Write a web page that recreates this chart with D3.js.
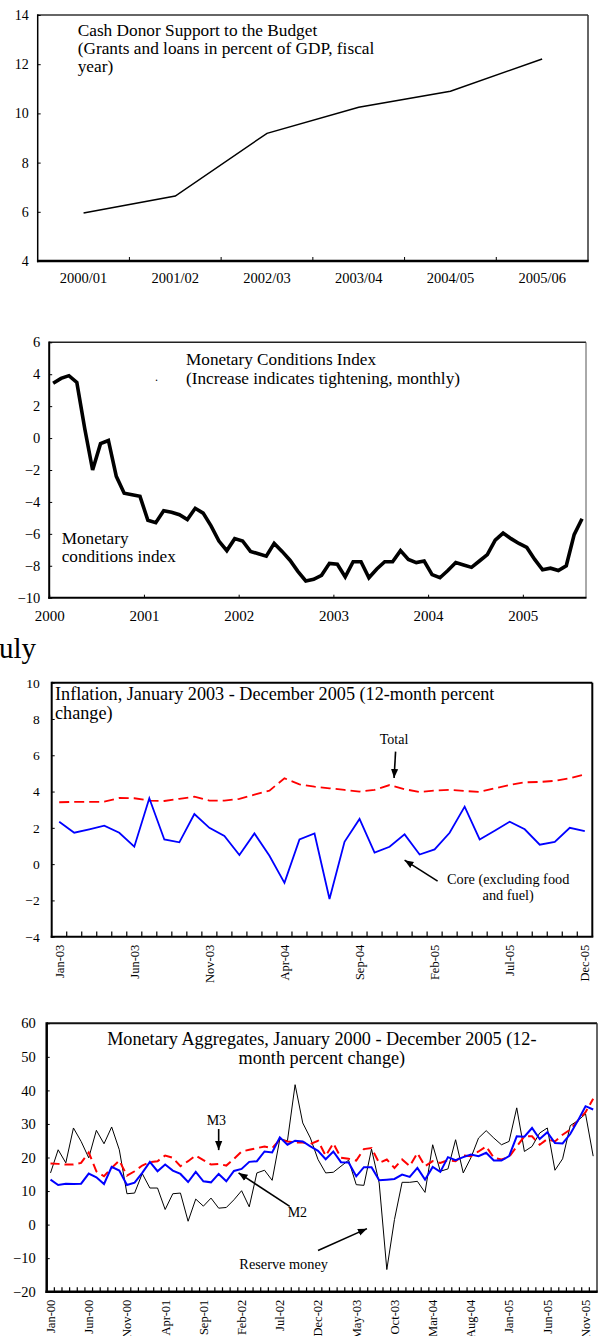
<!DOCTYPE html>
<html><head><meta charset="utf-8">
<script src="https://cdn.jsdelivr.net/npm/d3@7"></script>
<style>
body{margin:0;background:#fff}
svg text{font-family:"Liberation Serif","Times New Roman",serif;fill:#000}
</style></head><body><svg id="c" width="599" height="1336"></svg>
<script>
// ---------- data ----------
const donorYears = ["2000/01","2001/02","2002/03","2003/04","2004/05","2005/06"];
const donorValues = [5.95,6.64,9.19,10.25,10.9,12.21];
const donorTicks = [4,6,8,10,12,14];

const mciYears = ["2000","2001","2002","2003","2004","2005"];
const mciValues = [
 3.43,3.74,3.91,3.49,0.6,-2.0,-0.35,-0.15,-2.4,-3.45,-3.55,-3.65,
 -5.15,-5.3,-4.55,-4.65,-4.8,-5.1,-4.4,-4.7,-5.5,-6.45,-7.05,-6.3,
 -6.45,-7.1,-7.25,-7.4,-6.6,-7.1,-7.65,-8.35,-8.95,-8.85,-8.6,-7.85,
 -7.9,-8.7,-7.75,-7.75,-8.75,-8.2,-7.75,-7.75,-7.05,-7.6,-7.8,-7.7,
 -8.55,-8.75,-8.3,-7.8,-7.95,-8.1,-7.7,-7.3,-6.4,-5.95,-6.3,-6.6,
 -6.85,-7.6,-8.25,-8.15,-8.3,-8.0,-6.05,-5.05];
const mciTicks = [-10,-8,-6,-4,-2,0,2,4,6];

const inflMonths = d3.timeMonth.range(new Date(2003,0,1), new Date(2006,0,1));
const inflTickLabels = ["Jan-03","Jun-03","Nov-03","Apr-04","Sep-04","Feb-05","Jul-05","Dec-05"];
const inflTotal = [3.41,3.43,3.43,3.44,3.65,3.63,3.5,3.48,3.6,3.72,3.5,3.5,
 3.6,3.83,4.05,4.73,4.4,4.27,4.18,4.09,4.0,4.09,4.36,4.13,
 3.98,4.05,4.09,4.03,3.98,4.18,4.36,4.51,4.53,4.59,4.73,4.95];
const inflCore = [2.34,1.73,1.92,2.12,1.73,0.96,3.63,1.36,1.2,2.76,2.0,1.55,
 0.5,1.69,0.46,-1.03,1.36,1.69,-1.92,1.23,2.49,0.63,0.96,1.64,
 0.53,0.81,1.73,3.17,1.36,1.84,2.34,1.92,1.07,1.22,2.0,1.82];
const inflTicks = [-4,-2,0,2,4,6,8,10];

const aggMonths = d3.timeMonth.range(new Date(2000,0,1), new Date(2006,0,1));
const aggTickLabels = ["Jan-00","Jun-00","Nov-00","Apr-01","Sep-01","Feb-02","Jul-02","Dec-02","May-03","Oct-03","Mar-04","Aug-04","Jan-05","Jun-05","Nov-05"];
const reserveMoney = [15.4,22.3,18.4,28.8,24.8,19.9,28.1,24.1,29.1,22.3,
 9.2,9.4,15.2,10.9,10.9,4.5,9.2,9.4,1.0,7.6,
 5.5,7.9,4.9,5.1,7.4,10.1,5.3,15.4,16.2,13.2,
 25.5,25.0,41.7,30.3,25.8,19.4,15.4,15.6,17.4,19.2,
 11.9,11.7,22.5,12.4,-13.4,1.5,12.6,12.6,12.9,9.6,
 23.8,15.9,16.6,25.3,15.4,19.9,25.8,28.0,25.8,23.8,
 24.8,34.8,21.8,23.3,27.3,28.8,16.2,19.6,29.5,31.0,
 33.0,20.4];
const m2 = [13.4,11.8,12.2,12.1,12.2,15.2,14.1,12.1,17.2,16.1,
 11.8,12.5,15.4,18.7,15.9,17.9,16.1,15.1,12.7,15.7,
 12.9,12.6,15.1,12.9,16.0,16.6,18.7,18.9,21.8,21.5,
 26.0,23.8,25.0,24.8,23.3,22.0,19.5,21.8,18.6,18.5,
 14.4,17.1,17.1,13.2,13.4,13.6,14.9,14.2,16.9,13.4,
 17.2,15.7,20.1,19.2,20.1,20.9,20.4,21.4,19.1,19.1,
 20.4,26.3,26.2,28.8,25.5,27.5,24.3,24.2,27.0,31.0,
 35.3,34.3];
const m3 = [18.2,18.1,17.9,17.9,18.4,21.5,15.9,14.4,16.9,19.1,
 14.6,15.9,17.6,18.6,18.9,20.6,19.9,17.4,18.9,20.6,
 19.2,17.9,18.1,17.6,19.6,21.8,22.3,22.8,23.3,22.8,
 25.3,24.8,24.5,24.5,24.0,25.0,20.5,24.2,19.9,19.6,
 19.1,22.5,22.8,18.4,19.4,16.9,19.4,17.4,21.3,17.4,
 18.9,18.4,19.2,18.9,20.6,20.4,21.8,23.3,19.9,19.4,
 20.2,23.3,26.3,26.3,23.8,25.5,24.8,26.8,28.3,31.0,
 33.5,37.5];
const aggTicks = [-20,-10,0,10,20,30,40,50,60];

// ---------- helpers ----------
const svg = d3.select("#c");
svg.append("rect").attr("width",599).attr("height",1336).attr("fill","#fff");
const defs = svg.append("defs");
defs.append("marker").attr("id","ah").attr("viewBox","0 0 10 10")
  .attr("refX",10).attr("refY",5).attr("markerWidth",9).attr("markerHeight",9)
  .attr("markerUnits","userSpaceOnUse").attr("orient","auto")
  .append("path").attr("d","M0,1L10,5L0,9Z").attr("fill","#000");

function frame(g,x0,x1,y0,y1,st){
  g.append("line").attr("x1",x0).attr("x2",x1).attr("y1",y1).attr("y2",y1).attr("stroke",st.top).attr("stroke-width",st.tw);
  g.append("line").attr("x1",x1).attr("x2",x1).attr("y1",y1).attr("y2",y0).attr("stroke",st.right).attr("stroke-width",st.rw);
  g.append("line").attr("x1",x0).attr("x2",x0).attr("y1",y1-st.tw/2).attr("y2",y0+st.bw/2).attr("stroke","#000").attr("stroke-width",st.lw);
  g.append("line").attr("x1",x0-st.lw/2).attr("x2",x1+st.rw/2).attr("y1",y0).attr("y2",y0).attr("stroke","#000").attr("stroke-width",st.bw);
}
function leftAxis(g,y,x0,ticks,fs,pad){
  const a = g.append("g").attr("transform",`translate(${x0},0)`)
    .call(d3.axisLeft(y).tickValues(ticks).tickSizeInner(-3).tickSizeOuter(0).tickPadding(pad));
  a.select(".domain").remove();
  a.selectAll("line").attr("stroke","#000");
  a.selectAll("text").attr("font-size",fs).attr("font-family","Liberation Serif");
}
function arrow(g,x1,y1,x2,y2){
  g.append("line").attr("x1",x1).attr("y1",y1).attr("x2",x2).attr("y2",y2)
    .attr("stroke","#000").attr("stroke-width",1.6).attr("marker-end","url(#ah)");
}
function lines(g,arr,x,y,o){
  arr.forEach((t,i)=>g.append("text").attr("x",x).attr("y",y+i*o.dy)
     .attr("font-size",o.fs).attr("text-anchor",o.anchor||"start").text(t));
}

// ---------- Panel 1 ----------
{
  const g = svg.append("g");
  const x = d3.scaleBand().domain(donorYears).range([37.7,588]);
  const y = d3.scaleLinear().domain([4,14]).range([261,15]);
  frame(g,37.7,588,261,15,{top:"#333",tw:1.5,right:"#333",rw:1.5,lw:1.5,bw:2.5});
  leftAxis(g,y,37.7,donorTicks,14,9);
  const xa = g.append("g").attr("transform","translate(0,261)")
    .call(d3.axisBottom(x).tickSize(0).tickPadding(12));
  xa.select(".domain").remove();
  xa.selectAll("text").attr("font-size",14.5).attr("font-family","Liberation Serif");
  g.selectAll(".bt").data(donorYears.slice(1)).enter().append("line")
    .attr("x1",d=>x(d)).attr("x2",d=>x(d)).attr("y1",261).attr("y2",257)
    .attr("stroke","#000").attr("stroke-width",1);
  g.append("path").datum(donorValues)
    .attr("d",d3.line().x((d,i)=>x(donorYears[i])+x.bandwidth()/2).y(d=>y(d)))
    .attr("fill","none").attr("stroke","#000").attr("stroke-width",1.5);
  lines(g,["Cash Donor Support to the Budget","(Grants and loans in percent of GDP, fiscal","year)"],77.7,35.5,{dy:18.3,fs:17.3});
}

// ---------- Panel 2 ----------
{
  const g = svg.append("g");
  const x = d3.scaleLinear().domain([0,mciValues.length]).range([49.2,586]);
  const y = d3.scaleLinear().domain([-10,6]).range([597.7,342.3]);
  frame(g,49.2,586,597.7,342.3,{top:"#222",tw:1.5,right:"#555",rw:1,lw:2,bw:2});
  leftAxis(g,y,49.2,mciTicks,14.5,9);
  const xa = g.append("g").attr("transform","translate(0,597.7)")
    .call(d3.axisBottom(x).tickValues(mciYears.map((d,i)=>i*12)).tickFormat((d,i)=>mciYears[i])
      .tickSizeInner(-3).tickSizeOuter(0).tickPadding(13));
  xa.select(".domain").remove();
  xa.selectAll("line").attr("stroke","#000");
  xa.selectAll("text").attr("font-size",15).attr("font-family","Liberation Serif");
  g.append("path").datum(mciValues)
    .attr("d",d3.line().x((d,i)=>x(i+0.5)).y(d=>y(d)))
    .attr("fill","none").attr("stroke","#000").attr("stroke-width",3.6).attr("stroke-linejoin","miter");
  lines(g,["Monetary Conditions Index","(Increase indicates tightening, monthly)"],186,364.5,{dy:19,fs:17.2});
  lines(g,["Monetary","conditions index"],61.7,543.5,{dy:18,fs:17.2});
  g.append("text").attr("x",155).attr("y",381).attr("font-size",12).text(".");
}

// ---------- "uly" fragment ----------
svg.append("text").attr("x",-1).attr("y",658).attr("font-size",29).text("uly");

// ---------- Panel 3 ----------
{
  const g = svg.append("g");
  const fmt = d3.timeFormat("%b-%y");
  const cats = inflMonths.map(fmt);
  const x = d3.scaleBand().domain(cats).range([51.7,592.3]);
  const y = d3.scaleLinear().domain([-4,10]).range([936.7,682.7]);
  const cx = i => x.range()[0] + (i+0.5)*x.step();
  frame(g,51.7,592.3,936.7,682.7,{top:"#000",tw:2,right:"#000",rw:2,lw:2,bw:2});
  leftAxis(g,y,51.7,inflTicks,13.5,12);
  g.selectAll(".mt").data(cats.slice(1)).enter().append("line")
    .attr("x1",d=>x(d)).attr("x2",d=>x(d)).attr("y1",936.7).attr("y2",931.5)
    .attr("stroke","#000").attr("stroke-width",1.2);
  g.selectAll(".xl").data(inflTickLabels).enter().append("text")
    .attr("transform",d=>`translate(${x(d)+x.bandwidth()/2},${936.7+8}) rotate(-90)`)
    .attr("text-anchor","end").attr("dy","0.35em").attr("font-size",12.5).text(d=>d);
  g.append("path").datum(inflTotal)
    .attr("d",d3.line().x((d,i)=>cx(i)).y(d=>y(d)))
    .attr("fill","none").attr("stroke","#ff0000").attr("stroke-width",1.8).attr("stroke-dasharray","10,5");
  g.append("path").datum(inflCore)
    .attr("d",d3.line().x((d,i)=>cx(i)).y(d=>y(d)))
    .attr("fill","none").attr("stroke","#0000ff").attr("stroke-width",1.8);
  lines(g,["Inflation, January 2003 - December 2005 (12-month percent","change)"],55,700,{dy:19,fs:18.2});
  g.append("text").attr("x",cx(22.3)).attr("y",y(6.63)).attr("font-size",14).attr("text-anchor","middle").text("Total");
  arrow(g,cx(22.4),y(6.2),cx(22.3),y(4.75));
  lines(g,["Core (excluding food","and fuel)"],cx(29.9),y(-1.1),{dy:16,fs:14.3,anchor:"middle"});
  arrow(g,cx(25.2),y(-0.94),cx(23),y(0.22));
}

// ---------- Panel 4 ----------
{
  const g = svg.append("g");
  const fmt = d3.timeFormat("%b-%y");
  const cats = aggMonths.map(fmt);
  const x = d3.scaleBand().domain(cats).range([46.7,597]);
  const y = d3.scaleLinear().domain([-20,60]).range([1291.7,1023.3]);
  const cx = i => x.range()[0] + (i+0.5)*x.step();
  frame(g,46.7,597,1291.7,1023.3,{top:"#111",tw:2,right:"#333",rw:1.5,lw:2.5,bw:2.5});
  leftAxis(g,y,46.7,aggTicks,14.5,11);
  g.selectAll(".mt").data(cats.slice(1)).enter().append("line")
    .attr("x1",d=>x(d)).attr("x2",d=>x(d)).attr("y1",1291.7).attr("y2",1287.3)
    .attr("stroke","#000").attr("stroke-width",1.2);
  g.selectAll(".xl").data(aggTickLabels).enter().append("text")
    .attr("transform",d=>`translate(${x(d)+x.bandwidth()/2},${1291.7+8}) rotate(-90)`)
    .attr("text-anchor","end").attr("dy","0.35em").attr("font-size",12.5).text(d=>d);
  const ln = d3.line().x((d,i)=>cx(i)).y(d=>y(d));
  g.append("path").datum(reserveMoney).attr("d",ln).attr("fill","none").attr("stroke","#000").attr("stroke-width",1);
  g.append("path").datum(m3).attr("d",ln).attr("fill","none").attr("stroke","#ff0000").attr("stroke-width",2).attr("stroke-dasharray","9,5");
  g.append("path").datum(m2).attr("d",ln).attr("fill","none").attr("stroke","#0000ff").attr("stroke-width",2);
  lines(g,["Monetary Aggregates, January 2000 - December 2005 (12-","month percent change)"],(46.7+597)/2,1045,{dy:18.5,fs:18.2,anchor:"middle"});
  g.append("text").attr("x",cx(21.7)).attr("y",y(29.8)).attr("font-size",14).attr("text-anchor","middle").text("M3");
  arrow(g,cx(22),y(28.5),cx(22),y(22.2));
  g.append("text").attr("x",cx(32.3)).attr("y",y(2.2)).attr("font-size",14).attr("text-anchor","middle").text("M2");
  arrow(g,cx(31.3),y(5.45),cx(24.6),y(15.4));
  g.append("text").attr("x",cx(30.5)).attr("y",y(-13.1)).attr("font-size",14.3).attr("text-anchor","middle").text("Reserve money");
  arrow(g,cx(35),y(-7.75),cx(41.4),y(-1.2));
}
</script></body></html>
